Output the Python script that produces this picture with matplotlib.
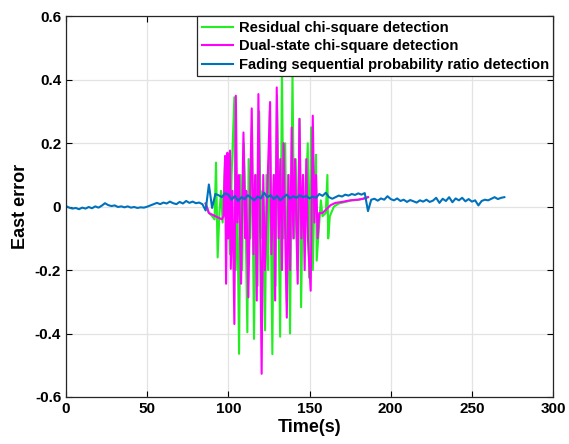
import numpy as np
import matplotlib
matplotlib.use("Agg")
import matplotlib.pyplot as plt

# ---- data ----
# fading sequential probability ratio detection, sampled every 2 s from 0 to 270 s
fsprt_t = np.arange(0, 272, 2)
fsprt_e = [0.002, -0.003, -0.006, -0.004, -0.008, -0.003, -0.006, -0.001, -0.005, 0.001,
           -0.003, 0.003, 0.011, 0.005, 0.002, 0.004, -0.001, 0.001, -0.002, 0.001,
           -0.003, -0.001, -0.004, -0.002, -0.003, 0.000, 0.004, 0.008, 0.012, 0.008,
           0.013, 0.010, 0.016, 0.011, 0.008, 0.015, 0.010, 0.018, 0.012, 0.016,
           0.011, 0.013, 0.008, -0.012, 0.070, -0.004, 0.040, 0.036, 0.030, 0.042,
           0.038, 0.022, 0.034, 0.018, 0.030, 0.024, 0.036, 0.028, 0.020, 0.032,
           0.026, 0.044, 0.030, 0.036, 0.024, 0.034, 0.020, 0.030, 0.038, 0.026,
           0.033, 0.028, 0.036, 0.030, 0.034, 0.026, 0.032, 0.028, 0.040, 0.034,
           0.044, 0.030, 0.025, 0.030, 0.035, 0.032, 0.038, 0.035, 0.040, 0.037,
           0.042, 0.038, 0.043, -0.014, 0.022, 0.025, 0.019, 0.026, 0.022, 0.033,
           0.024, 0.020, 0.026, 0.018, 0.022, 0.015, 0.021, 0.017, 0.013, 0.020,
           0.016, 0.022, 0.015, 0.019, 0.028, 0.012, 0.025, 0.018, 0.030, 0.014,
           0.026, 0.020, 0.028, 0.017, 0.024, 0.016, 0.020, 0.004, 0.018, 0.022,
           0.020, 0.025, 0.030, 0.024, 0.028, 0.030]

# residual chi-square detection (only differs from fsprt between ~86 and ~186 s)
resid_t = [86, 88, 90, 91.5, 92.4, 93.4, 94.5, 95.5, 96.5, 98, 99, 100, 101, 102,
           103.7, 104.5, 105.5, 106.6, 107.5, 108.5, 109.5, 110.5, 111.7, 112.5,
           113.5, 114.5, 115.8, 117, 118, 119, 120, 121, 122.6, 123.5, 124.5,
           125.5, 127.1, 128, 129, 130, 131.9, 133, 134, 135, 136, 137, 138,
           139.5, 140.5, 141.5, 142.5, 143.8, 144.8, 146, 147, 148.9, 149.7, 151,
           152, 153, 154, 154.4, 156, 157, 158, 160, 161, 161.5, 162.5, 165, 168,
           172, 176, 180, 183, 186]
resid_e = [0.01, -0.02, -0.03, -0.04, 0.139, -0.16, -0.02, 0.05, -0.05, 0.15,
           -0.1, 0.05, -0.15, 0.1, 0.345, -0.2, 0.05, -0.464, 0.1, -0.2, 0.2, 0.0,
           -0.396, 0.15, -0.1, 0.25, -0.417, 0.1, -0.25, 0.3, -0.1, 0.05, -0.39,
           0.1, -0.2, 0.3, -0.465, 0.1, -0.25, 0.35, -0.41, 0.44, -0.1, 0.2, -0.3,
           0.1, -0.40, 0.42, -0.1, 0.15, -0.2, 0.277, -0.317, 0.1, -0.1, 0.20,
           -0.224, 0.25, -0.2, 0.05, 0.164, -0.17, -0.05, 0.02, -0.03, -0.02, 0.10,
           -0.10, -0.03, 0.0, 0.01, 0.015, 0.02, 0.022, 0.025, 0.03]

# dual-state chi-square detection
dual_t = [86, 88, 90, 92, 94, 96, 97, 98, 98.6, 99.4, 100, 101, 101.5, 102.5,
          103.7, 104.6, 105.5, 106.5, 107.8, 109.3, 110.5, 111, 112.3, 114.4,
          115.5, 116.5, 117.5, 118.5, 119.5, 120.5, 121.5, 122.5, 124, 125.7,
          126.5, 128, 128.8, 129.8, 131, 132, 133, 134, 136, 137, 138, 139, 140,
          141, 142.7, 143.8, 145, 146, 147, 148, 149, 150.7, 152, 153, 154, 155,
          156, 158, 160, 163, 166, 170, 175, 180, 183, 186]
dual_e = [0.01, -0.02, -0.025, -0.03, -0.035, -0.04, -0.03, 0.16, -0.243, 0.17,
          -0.1, 0.177, -0.196, 0.05, -0.37, 0.35, -0.05, 0.1, -0.243, 0.234,
          -0.1, 0.05, -0.286, 0.31, -0.15, 0.1, -0.296, 0.355, -0.05, -0.527,
          0.1, -0.2, 0.05, 0.33, -0.15, 0.1, -0.296, 0.376, -0.1, 0.15, -0.2,
          0.2, -0.35, 0.1, -0.2, 0.25, -0.1, 0.15, -0.243, 0.277, -0.1, 0.1,
          -0.2, 0.15, -0.1, -0.265, 0.287, -0.05, 0.1, -0.1, -0.02, -0.02, -0.01,
          0.005, 0.012, 0.015, 0.02, 0.022, 0.025, 0.03]

labels = ['Residual chi-square detection',
          'Dual-state chi-square detection',
          'Fading sequential probability ratio detection']

plt.rcParams['font.family'] = ['Liberation Sans', 'DejaVu Sans']
plt.rcParams['font.weight'] = 'bold'
plt.rcParams['axes.unicode_minus'] = False

fig = plt.figure(figsize=(5.69, 4.44), dpi=100)
ax = fig.add_axes([0.116, 0.106, 0.856, 0.857])

ax.plot(resid_t, resid_e, color='#22ee22', lw=1.5, label=labels[0])
ax.plot(dual_t, dual_e, color='#ff00ff', lw=1.5, label=labels[1])
ax.plot(fsprt_t, fsprt_e, color='#0072bd', lw=1.5, label=labels[2])

ax.set_xlim(0, 300)
ax.set_ylim(-0.6, 0.6)
ax.set_xticks(np.arange(0, 301, 50))
ax.set_yticks([-0.6, -0.4, -0.2, 0, 0.2, 0.4, 0.6])
ax.set_yticklabels(['-0.6', '-0.4', '-0.2', '0', '0.2', '0.4', '0.6'])
ax.grid(True, color='#e3e3e3', lw=0.9)
ax.set_axisbelow(True)
ax.tick_params(direction='in', top=True, right=True, labelsize=11, length=4)
for lab in ax.get_xticklabels() + ax.get_yticklabels():
    lab.set_fontweight('bold')
for s in ax.spines.values():
    s.set_color('#262626')
    s.set_linewidth(0.9)

ax.set_xlabel('Time(s)', fontsize=13, fontweight='bold', labelpad=2)
ax.set_ylabel('East error', fontsize=13, fontweight='bold', labelpad=4)

leg = ax.legend(loc='upper right', borderaxespad=0, fancybox=False,
                prop={'weight': 'bold', 'size': 10.6}, handlelength=2.1,
                handletextpad=0.4, labelspacing=0.3, borderpad=0.3)
leg.get_frame().set_edgecolor('#262626')
leg.get_frame().set_linewidth(0.9)
leg.get_frame().set_alpha(1)

fig.savefig('out.png', dpi=100)
